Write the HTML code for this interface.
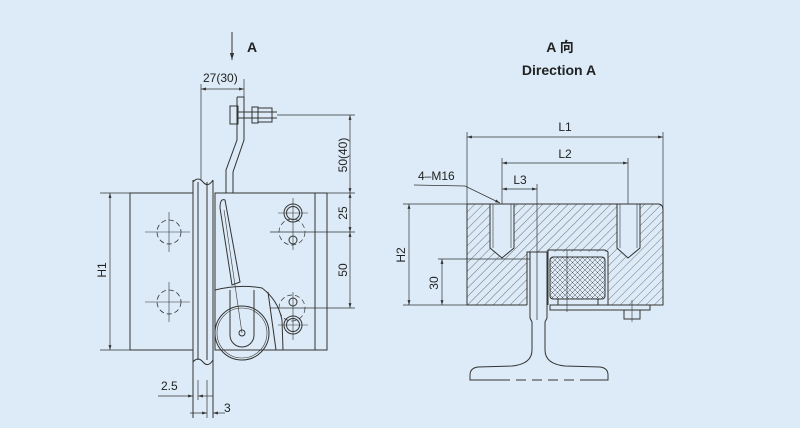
<!DOCTYPE html>
<html><head><meta charset="utf-8"><style>
html,body{margin:0;padding:0;background:#dcebf7;}
svg{display:block}
text{font-family:"Liberation Sans","Noto Sans CJK SC",sans-serif;fill:#222}
</style></head><body>
<svg width="800" height="428" viewBox="0 0 800 428" xmlns="http://www.w3.org/2000/svg">
<defs>
<marker id="ar" viewBox="0 0 10 10" refX="10" refY="5" markerWidth="7" markerHeight="7" orient="auto-start-reverse"><path d="M0,2 L10,5 L0,8 z" fill="#333"/></marker>
<pattern id="hat" width="6" height="6" patternUnits="userSpaceOnUse" patternTransform="rotate(45)"><line x1="0" y1="0" x2="0" y2="6" stroke="#555" stroke-width="0.8"/></pattern>
<pattern id="knurl" width="5" height="5" patternUnits="userSpaceOnUse"><path d="M0,0 L5,5 M5,0 L0,5" stroke="#555" stroke-width="0.5"/></pattern>
</defs>
<rect width="800" height="428" fill="#dcebf7"/>
<g stroke="#333" stroke-width="1" fill="none">
<!-- LEFT VIEW -->
<line x1="232" y1="32" x2="232" y2="60" marker-end="url(#ar)"/>
<line x1="201" y1="84" x2="201" y2="180" stroke-width="0.7"/>
<line x1="244" y1="79" x2="244" y2="97" stroke-width="0.7"/>
<line x1="201" y1="89" x2="244" y2="89" marker-start="url(#ar)" marker-end="url(#ar)" stroke-width="0.7"/>
<path d="M237,97 L244,97 L244,140 L233,172 L233,193 M237,97 L237,140 L226,170 L226,193"/>
<rect x="230" y="106" width="8" height="18"/>
<line x1="238" y1="112" x2="277" y2="112"/><line x1="238" y1="118" x2="277" y2="118"/>
<rect x="252" y="107" width="6" height="16"/><rect x="258" y="108" width="14" height="14"/>
<line x1="277" y1="115" x2="355" y2="115" stroke-width="0.7"/>
<line x1="350" y1="115" x2="350" y2="193" marker-start="url(#ar)" marker-end="url(#ar)" stroke-width="0.7"/>
<line x1="350" y1="193" x2="350" y2="232" marker-start="url(#ar)" marker-end="url(#ar)" stroke-width="0.7"/>
<line x1="350" y1="232" x2="350" y2="308" marker-start="url(#ar)" marker-end="url(#ar)" stroke-width="0.7"/>
<line x1="316" y1="193" x2="355" y2="193" stroke-width="0.7"/>
<line x1="270" y1="232" x2="355" y2="232" stroke-width="0.7"/>
<line x1="270" y1="308" x2="355" y2="308" stroke-width="0.7"/>
<rect x="130" y="193" width="63" height="157"/>
<line x1="100" y1="193" x2="130" y2="193" stroke-width="0.7"/>
<line x1="100" y1="350" x2="130" y2="350" stroke-width="0.7"/>
<line x1="110" y1="193" x2="110" y2="350" marker-start="url(#ar)" marker-end="url(#ar)" stroke-width="0.7"/>
<line x1="193" y1="180" x2="193" y2="418"/>
<line x1="198" y1="182" x2="198" y2="360"/>
<line x1="207" y1="182" x2="207" y2="360"/>
<line x1="213" y1="180" x2="213" y2="418"/>
<path d="M193,182 Q198,176 203,182 T213,180"/>
<path d="M193,362 Q198,356 203,362 T213,360"/>
<line x1="198" y1="200" x2="198" y2="345" stroke-dasharray="8,5" stroke-width="0.8"/>
<line x1="207" y1="200" x2="207" y2="345" stroke-dasharray="8,5" stroke-width="0.8"/>
<rect x="215" y="193" width="112" height="157"/>
<line x1="315" y1="193" x2="315" y2="350"/>
<path d="M215,290 Q240,284 262,288 Q278,300 282,320 L283,350"/>
<line x1="268" y1="292" x2="276" y2="350"/>
<circle cx="242" cy="333" r="27"/>
<circle cx="242" cy="333" r="25" stroke-width="0.6"/>
<path d="M230,290 L230,335 A12,12 0 0 0 254,335 L254,290"/>
<path d="M220,208 Q220,198 225,200 L240,282 L232,285 Z"/>
<line x1="224" y1="210" x2="242" y2="333" stroke-width="0.6"/>
<circle cx="242" cy="333" r="3"/>
<circle cx="293" cy="213" r="9"/><circle cx="293" cy="213" r="6.5"/>
<circle cx="293" cy="325" r="9"/><circle cx="293" cy="325" r="6.5"/>
<circle cx="293" cy="240" r="4"/><circle cx="293" cy="302" r="4"/>
<circle cx="292" cy="232" r="13" stroke-dasharray="5,3" stroke-width="0.7"/>
<circle cx="292" cy="308" r="13" stroke-dasharray="5,3" stroke-width="0.7"/>
<line x1="293" y1="198" x2="293" y2="250" stroke-width="0.6"/>
<line x1="293" y1="292" x2="293" y2="340" stroke-width="0.6"/>
<line x1="278" y1="213" x2="308" y2="213" stroke-width="0.6"/>
<line x1="278" y1="325" x2="308" y2="325" stroke-width="0.6"/>
<circle cx="169" cy="232" r="12" stroke-dasharray="5,3" stroke-width="0.8"/>
<circle cx="169" cy="302" r="12" stroke-dasharray="5,3" stroke-width="0.8"/>
<line x1="145" y1="232" x2="190" y2="232" stroke-width="0.6"/><line x1="169" y1="212" x2="169" y2="252" stroke-width="0.6"/>
<line x1="145" y1="302" x2="190" y2="302" stroke-width="0.6"/><line x1="169" y1="282" x2="169" y2="322" stroke-width="0.6"/>
<line x1="158" y1="396" x2="193" y2="396" marker-end="url(#ar)" stroke-width="0.7"/>
<line x1="213" y1="396" x2="198" y2="396" marker-end="url(#ar)" stroke-width="0.7"/>
<line x1="198" y1="380" x2="198" y2="400" stroke-width="0.7"/>
<line x1="190" y1="413" x2="207" y2="413" marker-end="url(#ar)" stroke-width="0.7"/>
<line x1="225" y1="413" x2="213" y2="413" marker-end="url(#ar)" stroke-width="0.7"/>
<line x1="207" y1="380" x2="207" y2="418" stroke-width="0.7"/>

<!-- RIGHT VIEW -->
<line x1="467" y1="132" x2="467" y2="204" stroke-width="0.7"/>
<line x1="663" y1="132" x2="663" y2="210" stroke-width="0.7"/>
<line x1="467" y1="137" x2="663" y2="137" marker-start="url(#ar)" marker-end="url(#ar)" stroke-width="0.7"/>
<line x1="502" y1="158" x2="502" y2="204" stroke-width="0.7"/>
<line x1="628" y1="158" x2="628" y2="204" stroke-width="0.7"/>
<line x1="502" y1="163" x2="628" y2="163" marker-start="url(#ar)" marker-end="url(#ar)" stroke-width="0.7"/>
<line x1="537" y1="184" x2="537" y2="320" stroke-width="0.7"/>
<line x1="502" y1="189" x2="537" y2="189" marker-start="url(#ar)" marker-end="url(#ar)" stroke-width="0.7"/>
<path d="M414,185 L465,186 L500,203" stroke-width="0.7" marker-end="url(#ar)"/>
<path d="M467,204 L658,204 Q663,204 663,210 L663,305 L608,305 L608,252 L527,252 L527,305 L467,305 Z" fill="url(#hat)" stroke="none"/>
<path d="M467,204 L658,204 Q663,204 663,210 L663,305 L608,305 L608,252 Q606,250 604,250 L548,250 L548,305 M527,305 L527,252 L548,252 M527,305 L467,305 L467,204"/>
<path d="M490,204 L490,248 L502,258 L514,248 L514,204 Z" fill="#dcebf7"/>
<line x1="493" y1="204" x2="493" y2="248" stroke-width="0.6"/><line x1="511" y1="204" x2="511" y2="248" stroke-width="0.6"/>
<path d="M617,204 L617,248 L628,258 L640,248 L640,204 Z" fill="#dcebf7"/>
<line x1="620" y1="204" x2="620" y2="248" stroke-width="0.6"/><line x1="637" y1="204" x2="637" y2="248" stroke-width="0.6"/>
<rect x="550" y="257" width="55" height="42" rx="3" fill="url(#knurl)"/>
<rect x="558" y="299" width="40" height="6"/>
<line x1="567" y1="250" x2="567" y2="312" stroke-width="0.6"/>
<rect x="550" y="305" width="100" height="5"/>
<rect x="624" y="310" width="16" height="9"/>
<line x1="632" y1="300" x2="632" y2="322" stroke-width="0.6"/>
<path d="M530,252 L530,318 L532,322 L532,350 Q532,364 512,366 L478,367 Q470,368 470,375 L470,380 L500,380 M585,380 L608,380 L608,375 Q608,368 600,367 L565,366 Q545,364 545,350 L545,322 L547,318 L547,252"/>
<line x1="500" y1="380" x2="585" y2="380" stroke-dasharray="10,6"/>
<line x1="403" y1="204" x2="467" y2="204" stroke-width="0.7"/>
<line x1="403" y1="305" x2="467" y2="305" stroke-width="0.7"/>
<line x1="409" y1="204" x2="409" y2="305" marker-start="url(#ar)" marker-end="url(#ar)" stroke-width="0.7"/>
<line x1="438" y1="259" x2="530" y2="259" stroke-width="0.7"/>
<line x1="442" y1="259" x2="442" y2="305" marker-start="url(#ar)" marker-end="url(#ar)" stroke-width="0.7"/>
</g>
<g font-size="12">
<text x="247" y="52" font-weight="bold" font-size="14">A</text>
<text x="203" y="82">27(30)</text>
<text x="347" y="155" transform="rotate(-90 347 155)" text-anchor="middle">50(40)</text>
<text x="347" y="213" transform="rotate(-90 347 213)" text-anchor="middle">25</text>
<text x="347" y="270" transform="rotate(-90 347 270)" text-anchor="middle">50</text>
<text x="106" y="270" transform="rotate(-90 106 270)" text-anchor="middle">H1</text>
<text x="161" y="390">2.5</text>
<text x="224" y="412">3</text>
<text x="560" y="52" font-weight="bold" font-size="14" text-anchor="middle">A 向</text>
<text x="559" y="75" font-weight="bold" font-size="14" text-anchor="middle">Direction A</text>
<text x="565" y="131" text-anchor="middle">L1</text>
<text x="565" y="158" text-anchor="middle">L2</text>
<text x="520" y="184" text-anchor="middle">L3</text>
<text x="418" y="180">4–M16</text>
<text x="405" y="255" transform="rotate(-90 405 255)" text-anchor="middle">H2</text>
<text x="438" y="283" transform="rotate(-90 438 283)" text-anchor="middle">30</text>
</g>
</svg>
</body></html>
